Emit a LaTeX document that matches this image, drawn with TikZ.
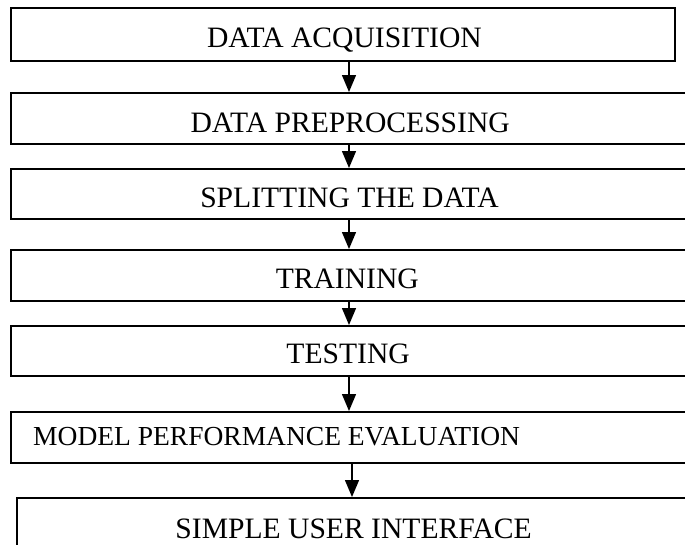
\documentclass[tikz,border=0pt]{standalone}
\usepackage{fontspec}
\setmainfont{Liberation Serif}
\usetikzlibrary{arrows.meta}
\begin{document}
\begin{tikzpicture}[x=1pt,y=-1pt,
  box/.style={draw=black,line width=2pt,rectangle,inner sep=0pt},
  lbl/.style={anchor=base east,inner sep=0pt,font=\fontsize{29.6}{34}\selectfont},
  arr/.style={line width=1.4pt,-{Triangle[length=17pt,width=14pt]}}]
\useasboundingbox (0,0) rectangle (685,544);
\clip (0,0) rectangle (685,544);
% boxes
\node[box,minimum width=664pt,minimum height=53pt] (b1) at (343,34.5) {};
\node[box,minimum width=694pt,minimum height=51pt] (b2) at (358,118.5) {};
\node[box,minimum width=694pt,minimum height=50pt] (b3) at (358,194) {};
\node[box,minimum width=694pt,minimum height=51pt] (b4) at (358,275.5) {};
\node[box,minimum width=694pt,minimum height=50pt] (b5) at (358,351) {};
\node[box,minimum width=694pt,minimum height=51pt] (b6) at (358,437.5) {};
\node[box,minimum width=688pt,minimum height=62pt] (b7) at (361,529) {};
% labels
\node[lbl] (t1) at (482,47.3) {DATA ACQUISITION};
\node[lbl] (t2) at (510,132) {DATA PREPROCESSING};
\node[lbl] (t3) at (499,207) {SPLITTING THE DATA};
\node[lbl] (t4) at (419,288) {TRAINING};
\node[lbl] (t5) at (410,363) {TESTING};
\node[lbl,anchor=base west,font=\fontsize{27.5}{32}\selectfont] (t6) at (33,445) {MODEL PERFORMANCE EVALUATION};
\node[lbl] (t7) at (532,538.5) {SIMPLE USER INTERFACE};
% arrows
\coordinate (ax) at (349,0);
\coordinate (ay) at (352,0);
\draw[arr] (b1.south -| ax) -- (b2.north -| ax);
\draw[arr] (b2.south -| ax) -- (b3.north -| ax);
\draw[arr] (b3.south -| ax) -- (b4.north -| ax);
\draw[arr] (b4.south -| ax) -- (b5.north -| ax);
\draw[arr] (b5.south -| ax) -- (b6.north -| ax);
\draw[arr] (b6.south -| ay) -- (b7.north -| ay);
\end{tikzpicture}
\end{document}
